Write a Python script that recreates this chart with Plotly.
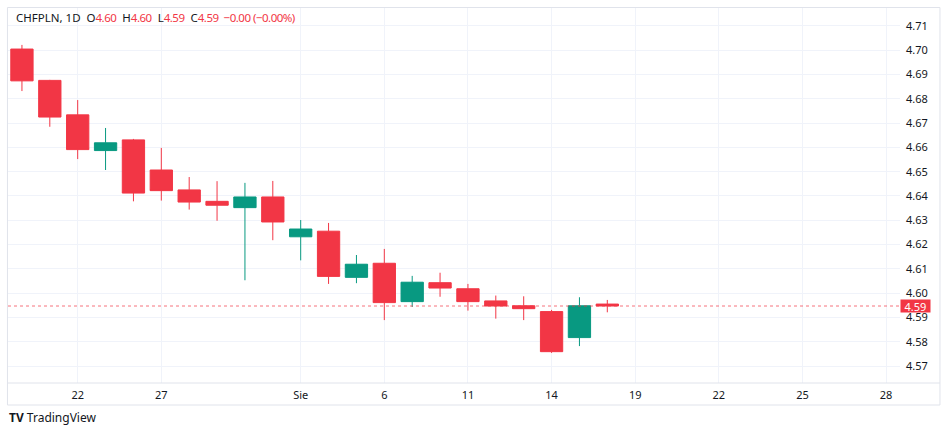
import plotly.graph_objects as go

# daily bars (trading days), then empty slots for the projected future area
dates = ["2020-07-20", "2020-07-21", "2020-07-22", "2020-07-23", "2020-07-24",
         "2020-07-27", "2020-07-28", "2020-07-29", "2020-07-30", "2020-07-31",
         "2020-08-03", "2020-08-04", "2020-08-05", "2020-08-06", "2020-08-07",
         "2020-08-10", "2020-08-11", "2020-08-12", "2020-08-13", "2020-08-14",
         "2020-08-17", "2020-08-18"]
future_dates = ["2020-08-19", "2020-08-20", "2020-08-21", "2020-08-22", "2020-08-23",
                "2020-08-24", "2020-08-25", "2020-08-26", "2020-08-27", "2020-08-28"]

opens = [4.7005, 4.6876, 4.6734, 4.6587, 4.6631, 4.6507, 4.6425, 4.6378, 4.6352, 4.6396,
         4.6232, 4.6255, 4.6065, 4.6123, 4.5965, 4.6043, 4.6018, 4.5968, 4.5948, 4.5924,
         4.5817, 4.5955]
highs = [4.7022, 4.6878, 4.6795, 4.6680, 4.6635, 4.6598, 4.6478, 4.6461, 4.6454, 4.6462,
         4.6301, 4.6289, 4.6157, 4.6182, 4.6071, 4.6084, 4.6038, 4.5990, 4.5987, 4.5931,
         4.5983, 4.5972]
lows = [4.6832, 4.6685, 4.6552, 4.6507, 4.6378, 4.6381, 4.6344, 4.6298, 4.6053, 4.6218,
        4.6135, 4.6038, 4.6041, 4.5889, 4.5943, 4.5985, 4.5928, 4.5895, 4.5889, 4.5754,
        4.5782, 4.5921]
closes = [4.6874, 4.6725, 4.6591, 4.6619, 4.6412, 4.6422, 4.6375, 4.6362, 4.6396, 4.6293,
          4.6264, 4.6069, 4.6119, 4.5961, 4.6045, 4.6021, 4.5965, 4.5947, 4.5936, 4.5759,
          4.5948, 4.5947]

tick_dates = ["2020-07-22", "2020-07-27", "2020-08-03", "2020-08-06", "2020-08-11",
              "2020-08-14", "2020-08-19", "2020-08-22", "2020-08-25", "2020-08-28"]
tick_text = ["22", "27", "Sie", "6", "11", "14", "19", "22", "25", "28"]

price_ticks = [4.57, 4.58, 4.59, 4.60, 4.61, 4.62, 4.63, 4.64, 4.65, 4.66, 4.67, 4.68, 4.69, 4.70, 4.71]

UP = "#089981"
DOWN = "#F23645"
TEXT = "#131722"
GRID = "#f0f3fa"
BORDER = "#e0e3eb"
FONT = "Noto Sans"

slot = {d: i for i, d in enumerate(dates + future_dates)}

fig = go.Figure()
fig.add_trace(go.Candlestick(
    x=[slot[d] for d in dates], open=opens, high=highs, low=lows, close=closes,
    increasing=dict(line=dict(color=UP, width=1), fillcolor=UP),
    decreasing=dict(line=dict(color=DOWN, width=1), fillcolor=DOWN),
    hoverinfo="skip", showlegend=False,
))

last_close = closes[-1]
fig.add_hline(y=last_close, line=dict(color="rgba(242,54,69,0.7)", width=1, dash="dot"))

# chart frame and the time-axis separator
fig.add_shape(type="rect", xref="paper", yref="paper", x0=-0.0006, x1=1.0448,
              y0=-0.0587, y1=1.0013, line=dict(color=BORDER, width=1))
fig.add_shape(type="line", xref="paper", yref="paper", x0=-0.0006, x1=1.0448,
              y0=0, y1=0, line=dict(color=BORDER, width=1))


def dark(s):
    return f'<span style="color:{TEXT}">{s}</span>'


def red(s):
    # the legend values use tighter figures
    return f'<span style="color:{DOWN};letter-spacing:-0.5px">{s}</span>'


header = (dark("CHFPLN, 1D  O") + red("4.60") + dark("  H") + red("4.60")
          + dark("  L") + red("4.59") + dark("  C") + red("4.59  −0.00 (−0.00%)"))
fig.add_annotation(text=header, xref="paper", yref="paper", x=0.0067, y=0.976,
                   xanchor="left", yanchor="middle", showarrow=False,
                   font=dict(family=FONT, size=11.5, color=TEXT))
fig.add_annotation(text=f"{last_close:.2f}", xref="paper", yref="y", x=1.0, y=last_close,
                   xanchor="left", yanchor="middle", showarrow=False, bgcolor=DOWN,
                   width=29, height=12, borderpad=0,
                   font=dict(family=FONT, size=11, color="white"))
fig.add_annotation(text='<b>TV</b> <span style="font-size:12px">TradingView</span>',
                   xref="paper", yref="paper", x=-0.0011, y=-0.093,
                   xanchor="left", yanchor="middle", showarrow=False,
                   font=dict(family=FONT, size=12, color=TEXT))

fig.update_layout(
    width=948, height=433,
    margin=dict(l=8, r=48, t=8, b=50),
    paper_bgcolor="white", plot_bgcolor="white",
    font=dict(family=FONT, size=11, color=TEXT),
    boxgap=0.2, boxgroupgap=0,
    xaxis=dict(range=[-0.5, 31.5], rangeslider=dict(visible=False),
               tickvals=[slot[d] for d in tick_dates], ticktext=tick_text,
               showgrid=True, gridcolor=GRID, zeroline=False, showline=False,
               ticks="", ticklabelstandoff=4, fixedrange=True),
    yaxis=dict(side="right", range=[4.5630, 4.7174], tickvals=price_ticks,
               ticktext=[f"{v:.2f}" for v in price_ticks],
               showgrid=True, gridcolor=GRID, zeroline=False, showline=False,
               ticks="", ticklabelstandoff=5, fixedrange=True),
)

# the page body has a default margin; drop it so the figure sits at the corner
fig.write_html("out.html", config={"displayModeBar": False},
               post_script="document.body.style.margin='0';")
